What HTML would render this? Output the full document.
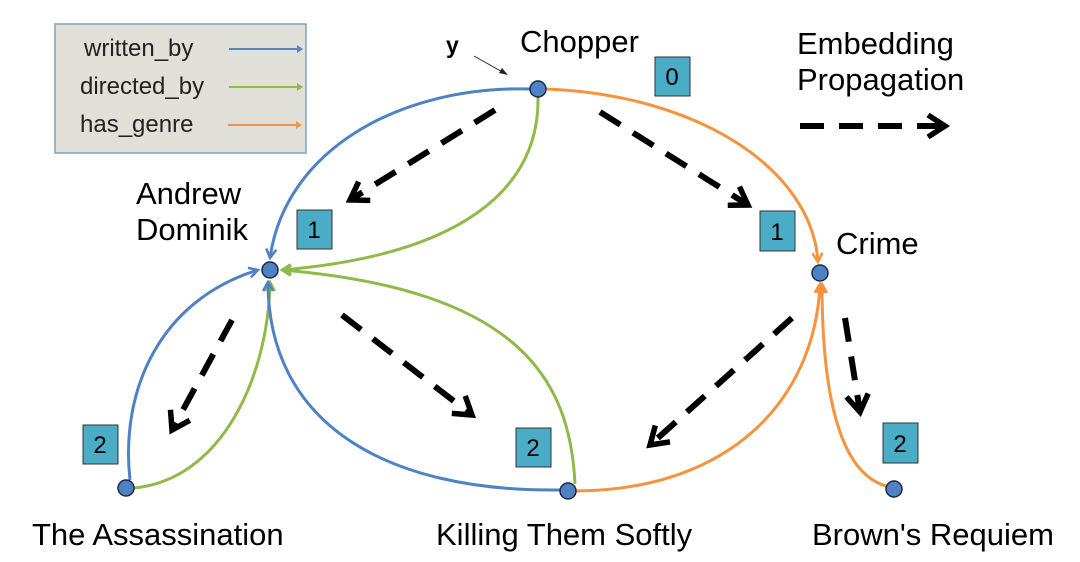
<!DOCTYPE html>
<html><head><style>
body{margin:0;background:#fff;}
svg{display:block;font-family:"Liberation Sans",sans-serif;}
</style></head><body>
<svg width="1080" height="562" viewBox="0 0 1080 562">
<defs>
<marker id="ab" markerWidth="12" markerHeight="12" refX="10" refY="6" orient="auto" markerUnits="userSpaceOnUse"><polyline points="1,1 10,6 1,11" fill="none" stroke="#4f81c5" stroke-width="2.5"/></marker>
<marker id="ag" markerWidth="12" markerHeight="12" refX="10" refY="6" orient="auto" markerUnits="userSpaceOnUse"><polyline points="1,1 10,6 1,11" fill="none" stroke="#8fba4a" stroke-width="2.5"/></marker>
<marker id="ao" markerWidth="12" markerHeight="12" refX="10" refY="6" orient="auto" markerUnits="userSpaceOnUse"><polyline points="1,1 10,6 1,11" fill="none" stroke="#f5943f" stroke-width="2.5"/></marker>
<marker id="ak" markerWidth="28" markerHeight="28" refX="21" refY="14" orient="auto" markerUnits="userSpaceOnUse"><polyline points="4,3 21,14 4,25" fill="none" stroke="#000" stroke-width="5.5"/></marker>
</defs>
<rect x="55" y="24" width="251" height="129" fill="#e0e0d8" stroke="#7f9fc8" stroke-width="1.5"/>
<text x="84" y="56" font-size="24" fill="#222">written_by</text>
<text x="80" y="94" font-size="24" fill="#222">directed_by</text>
<text x="80" y="132" font-size="24" fill="#222">has_genre</text>
<line x1="229" y1="49" x2="297" y2="49" stroke="#5a85b8" stroke-width="2"/><polygon points="297,45 303,49 297,53" fill="#5a85b8"/>
<line x1="229" y1="87" x2="297" y2="87" stroke="#8fba4a" stroke-width="2"/><polygon points="297,83 303,87 297,91" fill="#8fba4a"/>
<line x1="228" y1="125" x2="296" y2="125" stroke="#f5943f" stroke-width="2"/><polygon points="296,121 302,125 296,129" fill="#f5943f"/>
<g fill="none" stroke-width="3">
<path d="M532,89 C400,85 285,150 270,258" stroke="#4f81c5" marker-end="url(#ab)"/>
<path d="M538,96 C540,190 460,255 282,270" stroke="#8fba4a" marker-end="url(#ag)"/>
<path d="M546,89 C700,95 812,170 818,262" stroke="#f5943f" marker-end="url(#ao)"/>
<path d="M130,480 C120,390 160,300 258,270" stroke="#4f81c5" marker-end="url(#ab)"/>
<path d="M134,488 C220,480 268,380 270,282" stroke="#8fba4a" marker-end="url(#ag)"/>
<path d="M560,490 C380,492 268,420 268,282" stroke="#4f81c5" marker-end="url(#ab)"/>
<path d="M575,484 C570,380 520,290 282,270" stroke="#8fba4a" marker-end="url(#ag)"/>
<path d="M576,491 C730,490 815,400 820,284" stroke="#f5943f" marker-end="url(#ao)"/>
<path d="M886,486 C830,470 822,360 822,284" stroke="#f5943f" marker-end="url(#ao)"/>
</g>
<g stroke="#000" stroke-width="6" stroke-dasharray="24,15" fill="none" marker-end="url(#ak)">
<line x1="495" y1="110" x2="350" y2="200"/>
<line x1="600" y1="112" x2="748" y2="205"/>
<line x1="232" y1="320" x2="172" y2="430"/>
<line x1="342" y1="315" x2="472" y2="415"/>
<line x1="792" y1="318" x2="650" y2="445"/>
<line x1="845" y1="318" x2="860" y2="412"/>
<line x1="800" y1="126" x2="945" y2="126"/>
</g>
<line x1="474" y1="56" x2="506" y2="74" stroke="#222" stroke-width="1"/>
<polygon points="508,75 499,73 502,68" fill="#222"/>
<g fill="#4f81c5" stroke="#1a2a44" stroke-width="1.5">
<circle cx="538" cy="89" r="8"/><circle cx="270" cy="270" r="8"/><circle cx="820" cy="273" r="8"/>
<circle cx="126" cy="488" r="8"/><circle cx="568" cy="491" r="8"/><circle cx="894" cy="489" r="8"/>
</g>
<g fill="#4bacc6" stroke="#333" stroke-width="1">
<rect x="655" y="57" width="35" height="39"/><rect x="297" y="210" width="35" height="39"/>
<rect x="760" y="211" width="35" height="40"/><rect x="83" y="425" width="35" height="39"/>
<rect x="516" y="428" width="35" height="39"/><rect x="883" y="423" width="35" height="40"/>
</g>
<g font-size="24" text-anchor="middle" fill="#000">
<text x="672" y="85">0</text><text x="314" y="238">1</text><text x="777" y="240">1</text>
<text x="100" y="453">2</text><text x="533" y="456">2</text><text x="900" y="452">2</text>
</g>
<g font-size="31" fill="#000">
<text x="446" y="53" font-weight="bold" font-size="23">y</text>
<text x="520" y="52">Chopper</text>
<text x="136" y="204">Andrew</text>
<text x="136" y="240">Dominik</text>
<text x="836" y="254">Crime</text>
<text x="32" y="545">The Assassination</text>
<text x="436" y="545">Killing Them Softly</text>
<text x="812" y="545">Brown's Requiem</text>
<text x="797" y="54">Embedding</text>
<text x="797" y="90">Propagation</text>
</g>
</svg>
</body></html>
